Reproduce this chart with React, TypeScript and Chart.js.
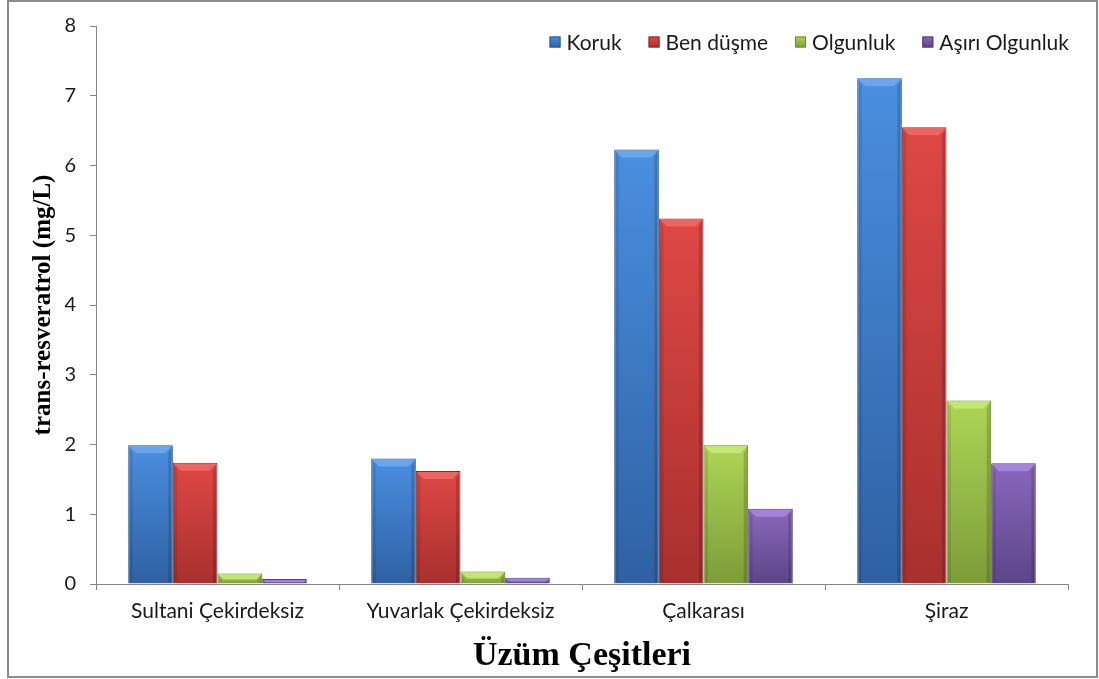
import React, { useEffect, useRef } from "react";
import { Chart, registerables } from "chart.js";

Chart.register(...registerables);

const categories = ["Sultani Çekirdeksiz", "Yuvarlak Çekirdeksiz", "Çalkarası", "Şiraz"];
const seriesNames = ["Koruk", "Ben düşme", "Olgunluk", "Aşırı Olgunluk"];
const koruk = [1.99, 1.8, 6.23, 7.25];
const benDusme = [1.74, 1.62, 5.24, 6.55];
const olgunluk = [0.15, 0.18, 1.99, 2.63];
const asiriOlgunluk = [0.07, 0.09, 1.08, 1.73];
const yMin = 0;
const yMax = 8;
const yStep = 1;
const yTitle = "trans-resveratrol (mg/L)";
const xTitle = "Üzüm Çeşitleri";

const palettes = [
  { top: "#4a8fe0", bottom: "#2f61a3", border: "#2a5590", light: "#6eaaf0", legend: "#3a73c4" },
  { top: "#de4845", bottom: "#a8302e", border: "#8e2a28", light: "#f06a66", legend: "#cc3c3a" },
  { top: "#aed556", bottom: "#7c9c38", border: "#6a8a2e", light: "#c8ec78", legend: "#93bb45" },
  { top: "#8a68bd", bottom: "#5c4588", border: "#4f3c78", light: "#a98ae0", legend: "#7357a3" },
];

const allSeries = [koruk, benDusme, olgunluk, asiriOlgunluk];

const fontFamily = "Lato, 'Open Sans', sans-serif";
const xTickFont = { family: fontFamily, size: 21 };
const yTickFont = { family: fontFamily, size: 20 };
const legendFontSize = 21;
const axisColor = "#868686";

const bevelPlugin = {
  id: "bevel",
  afterDatasetsDraw(chart: any) {
    const ctx = chart.ctx;
    chart.data.datasets.forEach((ds: any, di: number) => {
      const meta = chart.getDatasetMeta(di);
      if (meta.hidden) return;
      const pal = palettes[di];
      meta.data.forEach((el: any) => {
        const { x, y, base, width } = el.getProps(["x", "y", "base", "width"], true);
        const left = x - width / 2;
        const right = x + width / 2;
        const top = Math.min(y, base);
        const bottom = Math.max(y, base);
        const h = bottom - top;
        const b = Math.min(7, h / 2);
        ctx.save();
        ctx.beginPath();
        ctx.moveTo(left + 1, top + 1);
        ctx.lineTo(right - 1, top + 1);
        ctx.lineTo(right - 1 - b, top + 1 + b);
        ctx.lineTo(left + 1 + b, top + 1 + b);
        ctx.closePath();
        ctx.fillStyle = pal.light;
        ctx.globalAlpha = 0.85;
        ctx.fill();
        ctx.globalAlpha = 1;
        ctx.beginPath();
        ctx.moveTo(left + 1, top + 1);
        ctx.lineTo(left + 1 + b * 0.5, top + 1 + b);
        ctx.lineTo(left + 1 + b * 0.5, bottom - 1);
        ctx.lineTo(left + 1, bottom - 1);
        ctx.closePath();
        ctx.fillStyle = "rgba(0,0,0,0.10)";
        ctx.fill();
        ctx.beginPath();
        ctx.moveTo(right - 1, top + 1);
        ctx.lineTo(right - 1 - b * 0.5, top + 1 + b);
        ctx.lineTo(right - 1 - b * 0.5, bottom - 1);
        ctx.lineTo(right - 1, bottom - 1);
        ctx.closePath();
        ctx.fillStyle = "rgba(0,0,0,0.16)";
        ctx.fill();
        ctx.restore();
      });
    });
  },
};

const legendPlugin = {
  id: "insideLegend",
  afterDraw(chart: any) {
    const ctx = chart.ctx;
    const right = chart.chartArea.right + 1;
    const cy = chart.chartArea.top + 16;
    const sq = 11;
    const gapSqText = 6;
    const gapItems = 27;
    ctx.save();
    ctx.font = `${legendFontSize}px ${fontFamily}`;
    ctx.textBaseline = "middle";
    const items = chart.data.datasets.map((ds: any, i: number) => ({
      label: ds.label,
      pal: palettes[i],
      w: ctx.measureText(ds.label).width,
    }));
    let total = 0;
    items.forEach((it: any, i: number) => {
      total += sq + gapSqText + it.w + (i < items.length - 1 ? gapItems : 0);
    });
    let x = right - total;
    items.forEach((it: any) => {
      const g = ctx.createLinearGradient(0, cy - sq / 2, 0, cy + sq / 2);
      g.addColorStop(0, it.pal.top);
      g.addColorStop(1, it.pal.bottom);
      ctx.fillStyle = g;
      ctx.fillRect(x, cy - sq / 2, sq, sq);
      ctx.strokeStyle = it.pal.border;
      ctx.lineWidth = 1;
      ctx.strokeRect(x + 0.5, cy - sq / 2 + 0.5, sq - 1, sq - 1);
      ctx.fillStyle = "#1a1a1a";
      ctx.fillText(it.label, x + sq + gapSqText, cy + 1);
      x += sq + gapSqText + it.w + gapItems;
    });
    ctx.restore();
  },
};

export default function App() {
  const ref = useRef<HTMLCanvasElement | null>(null);

  useEffect(() => {
    document.body.style.margin = "0";
    const canvas = ref.current;
    if (!canvas) return;
    const chart = new Chart(canvas, {
      type: "bar",
      data: {
        labels: categories,
        datasets: allSeries.map((values, i) => ({
          label: seriesNames[i],
          data: values,
          backgroundColor: (c: any) => {
            const pal = palettes[i];
            const ch = c.chart;
            if (!ch.chartArea || c.type !== "data" || !ch.scales.y) return pal.legend;
            const ys = ch.scales.y;
            const top = ys.getPixelForValue(c.parsed.y);
            const base = ys.getPixelForValue(0);
            if (!isFinite(top) || !isFinite(base) || base - top < 1) return pal.legend;
            const g = ch.ctx.createLinearGradient(0, top, 0, base);
            g.addColorStop(0, pal.top);
            g.addColorStop(1, pal.bottom);
            return g;
          },
          borderColor: palettes[i].border,
          borderWidth: 1,
          categoryPercentage: 0.735,
          barPercentage: 1.0,
        })),
      },
      options: {
        responsive: false,
        animation: false,
        layout: { padding: { left: 8, right: 31, top: 18, bottom: 2 } },
        plugins: {
          legend: { display: false },
          tooltip: { enabled: false },
        },
        scales: {
          x: {
            grid: {
              display: true,
              drawOnChartArea: false,
              drawTicks: true,
              tickLength: 6,
              color: axisColor,
            },
            border: { display: true, color: axisColor, width: 1 },
            ticks: { color: "#1a1a1a", font: xTickFont, padding: 9, maxRotation: 0 },
            title: {
              display: true,
              text: xTitle,
              color: "#000",
              font: { family: "'Liberation Serif', 'Times New Roman', serif", size: 34, weight: "bold" },
              padding: { top: 0, bottom: 0 },
            },
            afterFit: (s: any) => {
              s.height = 93;
            },
          },
          y: {
            min: yMin,
            max: yMax,
            ticks: { stepSize: yStep, color: "#1a1a1a", font: yTickFont, padding: 14 },
            grid: {
              display: true,
              drawOnChartArea: false,
              drawTicks: true,
              tickLength: 6,
              color: axisColor,
            },
            border: { display: true, color: axisColor, width: 1 },
            title: {
              display: true,
              text: yTitle,
              color: "#000",
              font: { family: "'Liberation Serif', 'Times New Roman', serif", size: 25, weight: "bold" },
              padding: { top: 21, bottom: 0 },
            },
            afterFit: (s: any) => {
              s.width = 88;
            },
          },
        },
      },
      plugins: [bevelPlugin, legendPlugin],
    } as any);
    return () => chart.destroy();
  }, []);

  return (
    <div style={{ position: "relative", width: 1099, height: 679, background: "#fff" }}>
      <div
        style={{
          position: "absolute",
          left: 7,
          top: 0,
          width: 1091,
          height: 678,
          border: "2px solid #8c8c8c",
          boxSizing: "border-box",
        }}
      />
      <canvas
        ref={ref}
        width={1099}
        height={679}
        style={{ position: "absolute", left: 0, top: 0, width: 1099, height: 679 }}
      />
    </div>
  );
}
